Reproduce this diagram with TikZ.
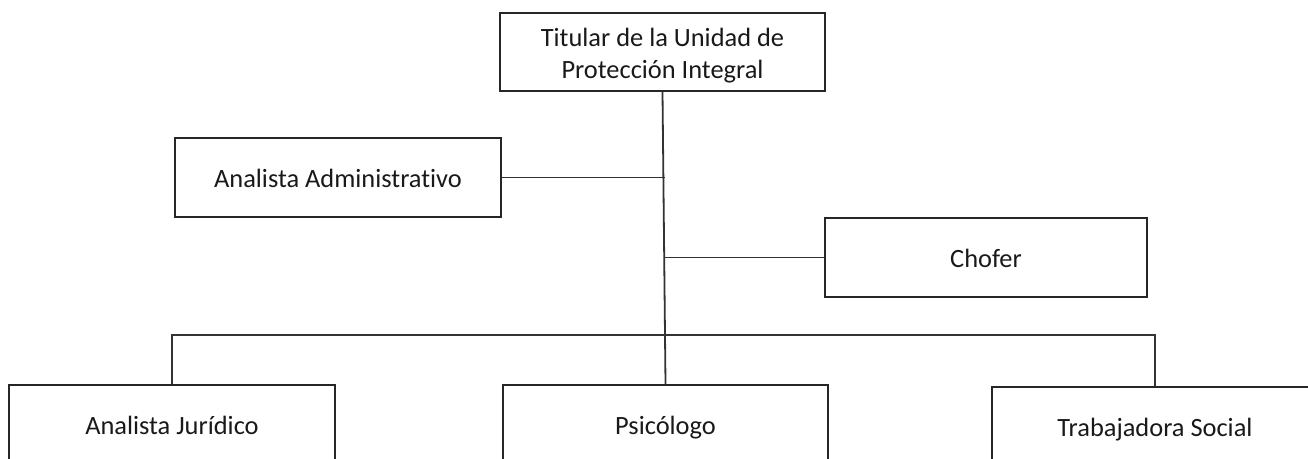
\documentclass[tikz,border=0pt]{standalone}
\usepackage{fontspec}
\setmainfont{Carlito}[Ligatures=NoCommon]
\begin{document}
\begin{tikzpicture}[x=1pt,y=-1pt,
  box/.style={draw=black!85, line width=1.8pt, minimum width=325pt, minimum height=78pt, inner sep=0pt, align=center, font=\fontsize{26.4}{32}\selectfont, text=black!90},
  one/.style={box, text height=21.5pt, text depth=2.5pt},
  conn/.style={draw=black!80, line width=1.8pt}]
\useasboundingbox (0,0) rectangle (1308,458);
\clip (0,0) rectangle (1308,458);
\node[box] (top) at (662.5,52) {\rule{0pt}{26.5pt}Titular de la Unidad de\\Protección Integral};
\node[one, minimum width=326pt, minimum height=79pt] (adm) at (338,177.5) {Analista Administrativo};
\node[one, minimum width=322pt, minimum height=79pt] (cho) at (986,257.5) {Chofer};
\node[one, minimum width=326pt, minimum height=79pt] (jur) at (172,424.5) {Analista Jurídico};
\node[one, minimum width=325pt, minimum height=79pt] (psi) at (665.5,424.5) {Psicólogo};
\node[one, minimum width=326pt, minimum height=79pt] (tra) at (1155,426.5) {Trabajadora Social};
\coordinate (bus) at (665,335);
\draw[conn] (top.south) -- (psi.north);
\draw[conn] (adm.east) -- (adm.east -| bus);
\draw[conn] (cho.west) -- (cho.west -| bus);
\draw[conn] (jur.north) |- (bus) -| (tra.north);
\end{tikzpicture}
\end{document}
